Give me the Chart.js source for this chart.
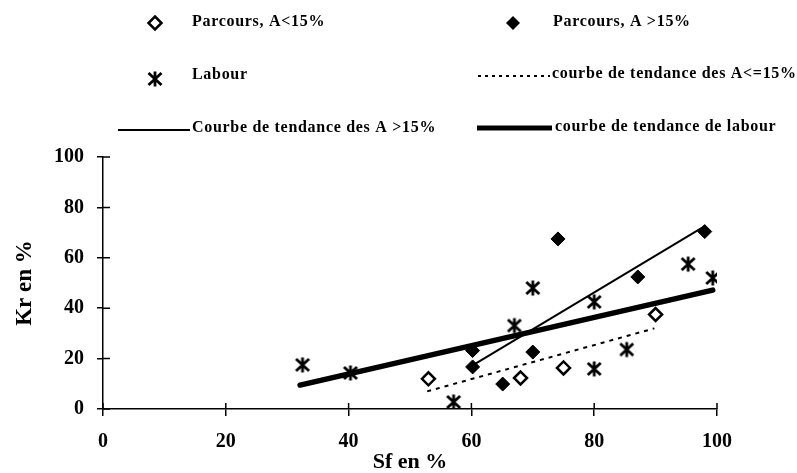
<!DOCTYPE html>
<html>
<head>
  <meta charset="UTF-8">
  <script src="https://cdn.jsdelivr.net/npm/chart.js@4.4.0/dist/chart.umd.min.js"></script>
  <style>
    body { margin: 0; background: #fff; }
  </style>
</head>
<body>
  <canvas id="chart" width="797" height="473"></canvas>
  <script>
    // valeurs
    const parcoursFaibleX = [53, 68, 75, 90];
    const parcoursFaibleY = [12, 12.3, 16.3, 37.5];
    const parcoursFortX = [60.2, 60.2, 65.1, 70, 74.1, 87.1, 98];
    const parcoursFortY = [23.2, 16.7, 9.9, 22.6, 67.5, 52.4, 70.4];
    const labourX = [32.5, 40.3, 57.1, 67, 70, 80, 80, 85.3, 95.3, 99.3];
    const labourY = [17.5, 14.3, 2.8, 33.1, 48, 42.5, 15.9, 23.6, 57.5, 52];
    const tendFaibleX = [52.8, 89.8];
    const tendFaibleY = [7, 32];
    const tendFortX = [60.2, 98];
    const tendFortY = [17.3, 72.6];
    const tendLabourX = [32.1, 99.3];
    const tendLabourY = [9.5, 47.2];
    const xTicks = [0, 20, 40, 60, 80, 100];
    const yTicks = [0, 20, 40, 60, 80, 100];

    function pts(xs, ys) { return xs.map((x, i) => ({ x: x, y: ys[i] })); }

    // asterisque en forme de "ж"
    const star = document.createElement('canvas');
    star.width = 18; star.height = 18;
    (function () {
      const c = star.getContext('2d');
      c.strokeStyle = '#000';
      c.lineWidth = 2.8;
      c.beginPath();
      c.moveTo(2.5, 3); c.lineTo(15.5, 15);
      c.moveTo(15.5, 3); c.lineTo(2.5, 15);
      c.moveTo(9, 1.5); c.lineTo(9, 16.5);
      c.stroke();
    })();

    const serif = "'Liberation Serif', 'Times New Roman', serif";

    function diamond(ctx, x, y, r, filled) {
      ctx.beginPath();
      ctx.moveTo(x, y - r); ctx.lineTo(x + r, y); ctx.lineTo(x, y + r); ctx.lineTo(x - r, y);
      ctx.closePath();
      if (filled) { ctx.fillStyle = '#000'; ctx.fill(); }
      else { ctx.fillStyle = '#fff'; ctx.fill(); ctx.lineWidth = 2.5; ctx.strokeStyle = '#000'; ctx.stroke(); }
    }

    const legende = {
      id: 'legende',
      afterDraw(chart) {
        const ctx = chart.ctx;
        ctx.save();
        ctx.font = 'bold 16px ' + serif;
        ctx.letterSpacing = '0.7px';
        ctx.textBaseline = 'middle';
        ctx.textAlign = 'left';
        const ds = chart.data.datasets;

        diamond(ctx, 155, 23, 6.5, false);
        ctx.fillStyle = '#000';
        ctx.fillText(ds[0].label, 192, 22);

        diamond(ctx, 513, 23, 7, true);
        ctx.fillText(ds[1].label, 553, 22);

        ctx.drawImage(star, 146, 70);
        ctx.fillText(ds[2].label, 192, 75);

        ctx.strokeStyle = '#000';
        ctx.lineWidth = 2;
        ctx.setLineDash([3, 4]);
        ctx.beginPath(); ctx.moveTo(478, 76); ctx.lineTo(550, 76); ctx.stroke();
        ctx.setLineDash([]);
        ctx.fillText(ds[3].label, 552, 74);

        ctx.lineWidth = 2;
        ctx.beginPath(); ctx.moveTo(118, 130); ctx.lineTo(190, 130); ctx.stroke();
        ctx.fillText(ds[4].label, 192, 128);

        ctx.lineWidth = 5;
        ctx.beginPath(); ctx.moveTo(477, 128); ctx.lineTo(552, 128); ctx.stroke();
        ctx.fillText(ds[5].label, 555, 127);
        ctx.restore();
      }
    };

    // petits traits de graduation vers l'interieur
    const gradInt = {
      id: 'gradInt',
      afterDraw(chart) {
        const ctx = chart.ctx;
        const xs = chart.scales.x, ys = chart.scales.y;
        ctx.save();
        ctx.strokeStyle = '#000';
        ctx.lineWidth = 1.5;
        ctx.beginPath();
        ys.ticks.forEach(t => {
          const p = ys.getPixelForValue(t.value);
          ctx.moveTo(xs.left, p); ctx.lineTo(xs.left + 7, p);
        });
        xs.ticks.forEach(t => {
          const p = xs.getPixelForValue(t.value);
          ctx.moveTo(p, ys.bottom); ctx.lineTo(p, ys.bottom - 6);
        });
        ctx.stroke();
        ctx.restore();
      }
    };

    const ctx = document.getElementById('chart').getContext('2d');
    const myChart = new Chart(ctx, {
      type: 'scatter',
      data: {
        datasets: [
          {
            label: 'Parcours, A<15%',
            data: pts(parcoursFaibleX, parcoursFaibleY),
            pointStyle: 'rectRot', pointRadius: 6.5,
            backgroundColor: '#fff', borderColor: '#000', borderWidth: 2.5
          },
          {
            label: 'Parcours, A >15%',
            data: pts(parcoursFortX, parcoursFortY),
            pointStyle: 'rectRot', pointRadius: 7,
            backgroundColor: '#000', borderColor: '#000', borderWidth: 1
          },
          {
            label: 'Labour',
            data: pts(labourX, labourY),
            pointStyle: star, pointRadius: 9
          },
          {
            label: 'courbe de tendance des A<=15%',
            data: pts(tendFaibleX, tendFaibleY),
            showLine: true, pointRadius: 0, borderColor: '#000',
            borderWidth: 2, borderDash: [4, 5]
          },
          {
            label: 'Courbe de tendance des A >15%',
            data: pts(tendFortX, tendFortY),
            showLine: true, pointRadius: 0, borderColor: '#000', borderWidth: 2
          },
          {
            label: 'courbe de tendance de labour',
            data: pts(tendLabourX, tendLabourY),
            showLine: true, pointRadius: 0, borderColor: '#000', borderWidth: 5.5,
            borderCapStyle: 'round'
          }
        ]
      },
      options: {
        responsive: false,
        animation: false,
        layout: { padding: { top: 157, right: 80, bottom: 0, left: 0 } },
        plugins: { legend: { display: false }, tooltip: { enabled: false } },
        scales: {
          x: {
            type: 'linear', min: 0, max: 100,
            afterBuildTicks: s => { s.ticks = xTicks.map(v => ({ value: v })); },
            ticks: { padding: 14, color: '#000', font: { family: serif, size: 20, weight: 'bold' } },
            grid: { drawOnChartArea: false, tickLength: 7, color: '#000', lineWidth: 1.5 },
            border: { color: '#000', width: 1.5 },
            title: { display: true, text: 'Sf en %', color: '#000', padding: 0,
                     font: { family: serif, size: 22, weight: 'bold', lineHeight: 1 } },
            afterFit: s => { s.height = 64; }
          },
          y: {
            min: 0, max: 100,
            afterBuildTicks: s => { s.ticks = yTicks.map(v => ({ value: v })); },
            ticks: { padding: 13, color: '#000', font: { family: serif, size: 20, weight: 'bold' } },
            grid: { drawOnChartArea: false, tickLength: 6, color: '#000', lineWidth: 1.5 },
            border: { color: '#000', width: 1.5 },
            title: { display: true, text: 'Kr en %', color: '#000', padding: { top: 14, bottom: 0 },
                     font: { family: serif, size: 23, weight: 'bold', lineHeight: 1 } },
            afterFit: s => { s.width = 103; }
          }
        }
      },
      plugins: [legende, gradInt]
    });
  </script>
</body>
</html>
